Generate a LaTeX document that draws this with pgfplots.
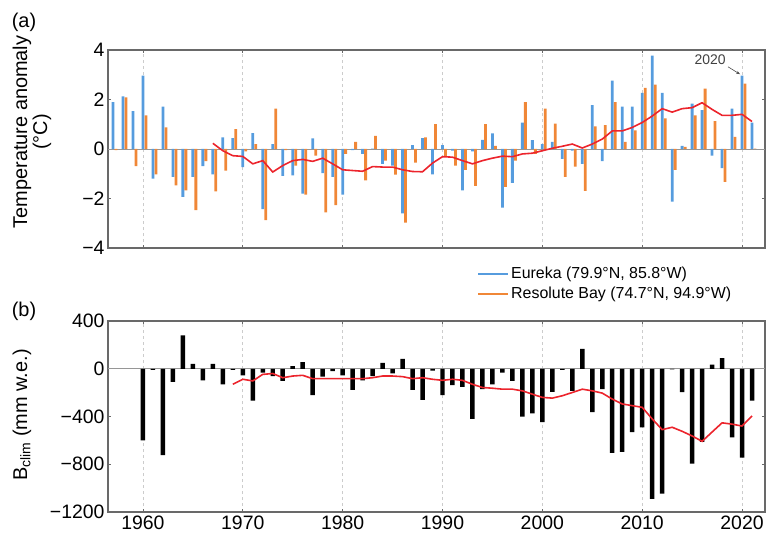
\documentclass[border=0pt]{standalone}
\usepackage{fontspec}
\setmainfont{Liberation Sans}
\usepackage{pgfplots}
\pgfplotsset{compat=1.18}
\usetikzlibrary{arrows.meta}
\definecolor{eblue}{RGB}{86,156,222}
\definecolor{rorange}{RGB}{240,135,55}
\definecolor{rline}{RGB}{236,36,44}
\definecolor{frame}{RGB}{105,105,105}
\pgfplotsset{
  myaxis/.style={
    scale only axis, width=657bp,
    xmin=1956.5, xmax=2022.3,
    axis line style={frame, line width=1.3bp},
    tick style={frame, line width=0.6bp}, major tick length=3bp,
    xtick={1960,1970,...,2020},
    xmajorgrids, major grid style={dashed, gray!40, line width=0.6bp},
    tick label style={font=\fontsize{19.5}{20}\selectfont},
  }
}
\begin{document}
\begin{tikzpicture}
\path[use as bounding box] (0bp,0bp) rectangle (767bp,-539bp);
\begin{axis}[myaxis,
  at={(108bp,-50bp)}, anchor=north west, height=198bp,
  ymin=-4, ymax=4, ytick={-4,-2,0,2,4}, yticklabels={−4,−2,0,2,4},
  xticklabels={},
  legend style={at={(0.5616,-0.085)}, anchor=north west, draw=none, fill=none,
    font=\fontsize{16}{18}\selectfont, inner sep=0pt, row sep=3bp},
  legend cell align=left,
  legend image code/.code={\draw[#1] (0bp,0bp) -- (30bp,0bp);},
]
\draw[frame!70, line width=0.8bp] (axis cs:1956.5,0) -- (axis cs:2022.3,0);
\addplot[ybar, bar width=0.28, bar shift=0, fill=eblue, draw=none, forget plot] coordinates {
(1957,1.89) (1958,2.13) (1959,1.53) (1960,2.96) (1961,-1.2) (1962,1.71) (1963,-1.13) (1964,-1.93)
(1965,-1.13) (1966,-0.69) (1967,-1.03) (1968,0.47) (1969,0.44) (1970,-0.73) (1971,0.64) (1972,-2.43)
(1973,0.2) (1974,-1.09) (1975,-1.07) (1976,-1.8) (1977,0.43) (1978,-0.97) (1979,-1.13) (1980,-1.84)
(1981,-0.05) (1982,-0.2) (1983,0.02) (1984,-0.6) (1985,-0.67) (1986,-2.6) (1987,0.16) (1988,0.44)
(1989,-1.03) (1990,0.16) (1991,-0.07) (1992,-1.67) (1993,-0.1) (1994,0.37) (1995,0.63) (1996,-2.37)
(1997,-1.37) (1998,1.07) (1999,0.36) (2000,0.2) (2001,0.29) (2002,-0.4) (2003,-0.07) (2004,-0.6)
(2005,1.77) (2006,-0.49) (2007,2.76) (2008,1.71) (2009,1.71) (2010,2.27) (2011,3.77) (2012,2.27)
(2013,-2.13) (2014,0.13) (2015,1.83) (2016,1.57) (2017,-0.27) (2018,-0.77) (2019,1.63) (2020,2.96)
(2021,1.07)};
\addplot[ybar, bar width=0.28, bar shift=0.3, fill=rorange, draw=none, forget plot] coordinates {
(1957,-0.05) (1958,2.09) (1959,-0.69) (1960,1.36) (1961,-1.03) (1962,0.87) (1963,-1.47) (1964,-1.67)
(1965,-2.47) (1966,-0.49) (1967,-1.71) (1968,-0.87) (1969,0.8) (1970,-0.1) (1971,0.2) (1972,-2.87)
(1973,1.63) (1974,-0.05) (1975,-0.67) (1976,-1.84) (1977,-0.27) (1978,-2.56) (1979,-2.27) (1980,-0.2)
(1981,0.29) (1982,-1.27) (1983,0.53) (1984,-0.47) (1985,-1.04) (1986,-2.97) (1987,-0.55) (1988,0.47)
(1989,1.0) (1990,-0.31) (1991,-0.67) (1992,-0.84) (1993,-1.49) (1994,1.0) (1995,0.13) (1996,-1.53)
(1997,-0.47) (1998,1.89) (1999,-0.2) (2000,1.63) (2001,1.03) (2002,-1.13) (2003,-0.71) (2004,-1.69)
(2005,0.91) (2006,0.96) (2007,1.89) (2008,0.29) (2009,0.75) (2010,2.47) (2011,2.6) (2012,1.24)
(2013,-0.84) (2014,0.09) (2015,1.36) (2016,2.44) (2017,1.13) (2018,-1.33) (2019,0.49) (2020,2.64)
(2021,0.02)};
\addplot[rline, line width=1.6bp, no markers, forget plot] coordinates {
(1967,0.23) (1968,-0.07) (1969,-0.27) (1970,-0.3) (1971,-0.6) (1972,-0.47) (1973,-0.93) (1974,-0.67)
(1975,-0.47) (1976,-0.42) (1977,-0.5) (1978,-0.37) (1979,-0.6) (1980,-0.84) (1981,-0.87) (1982,-0.9)
(1983,-0.71) (1984,-0.73) (1985,-0.73) (1986,-0.84) (1987,-0.91) (1988,-0.92) (1989,-0.57) (1990,-0.31)
(1991,-0.33) (1992,-0.47) (1993,-0.6) (1994,-0.47) (1995,-0.37) (1996,-0.29) (1997,-0.31) (1998,-0.2)
(1999,-0.17) (2000,-0.07) (2001,0.03) (2002,0.11) (2003,0.2) (2004,0.04) (2005,0.2) (2006,0.4)
(2007,0.73) (2008,0.73) (2009,0.87) (2010,1.07) (2011,1.33) (2012,1.63) (2013,1.49) (2014,1.63)
(2015,1.67) (2016,1.87) (2017,1.6) (2018,1.36) (2019,1.36) (2020,1.4) (2021,1.11)};
\addlegendimage{eblue, line width=2bp}
\addlegendentry{Eureka (79.9°N, 85.8°W)}
\addlegendimage{rorange, line width=2bp}
\addlegendentry{Resolute Bay (74.7°N, 94.9°W)}
\node[font=\fontsize{14}{14}\selectfont, text=black!75] at (axis cs:2016.8,3.62) {2020};
\draw[-{Stealth[length=4bp]}, black!70, line width=0.6bp] (axis cs:2018.6,3.32) -- (axis cs:2019.8,3.02);
\end{axis}

\begin{axis}[myaxis,
  at={(108bp,-321bp)}, anchor=north west, height=191bp,
  ymin=-1200, ymax=400, ytick={-1200,-800,-400,0,400}, yticklabels={−1200,−800,−400,0,400},
  xticklabels={1960,1970,1980,1990,2000,2010,2020},
]
\draw[frame!70, line width=0.8bp] (axis cs:1956.5,0) -- (axis cs:2022.3,0);
\addplot[ybar, bar width=0.45, bar shift=0, fill=black, draw=none] coordinates {
(1960,-599) (1961,-10) (1962,-723) (1963,-110) (1964,279) (1965,41) (1966,-97) (1967,41)
(1968,-130) (1969,-10) (1970,-55) (1971,-268) (1972,-33) (1973,-61) (1974,-102) (1975,22)
(1976,55) (1977,-221) (1978,-66) (1979,-20) (1980,-55) (1981,-177) (1982,-97) (1983,-61)
(1984,50) (1985,-39) (1986,83) (1987,-177) (1988,-260) (1989,-15) (1990,-221) (1991,-138)
(1992,-152) (1993,-420) (1994,-171) (1995,-130) (1996,-33) (1997,-102) (1998,-400) (1999,-373)
(2000,-447) (2001,-193) (2002,-10) (2003,-185) (2004,166) (2005,-364) (2006,-171) (2007,-704)
(2008,-696) (2009,-530) (2010,-491) (2011,-1090) (2012,-1045) (2013,-5) (2014,-196) (2015,-795)
(2016,-612) (2017,34) (2018,90) (2019,-575) (2020,-744) (2021,-267)};
\addplot[rline, line width=1.6bp, no markers] coordinates {
(1969,-130) (1970,-88) (1971,-102) (1972,-47) (1973,-40) (1974,-75) (1975,-61) (1976,-55)
(1977,-83) (1978,-83) (1979,-83) (1980,-83) (1981,-83) (1982,-83) (1983,-75) (1984,-61)
(1985,-61) (1986,-66) (1987,-83) (1988,-75) (1989,-88) (1990,-97) (1991,-88) (1992,-97)
(1993,-130) (1994,-157) (1995,-163) (1996,-171) (1997,-171) (1998,-185) (1999,-213) (2000,-240)
(2001,-246) (2002,-226) (2003,-199) (2004,-171) (2005,-185) (2006,-204) (2007,-254) (2008,-295)
(2009,-309) (2010,-323) (2011,-420) (2012,-510) (2013,-490) (2014,-524) (2015,-563) (2016,-608)
(2017,-530) (2018,-453) (2019,-464) (2020,-480) (2021,-395)};
\end{axis}

\node[rotate=90, align=center, font=\fontsize{20}{20}\selectfont] at (32bp,-132bp) {Temperature anomaly\\(°C)};
\node[rotate=90, font=\fontsize{20}{20}\selectfont] at (22bp,-415bp) {B\textsubscript{clim} (mm w.e.)};
\node[font=\fontsize{20}{20}\selectfont] at (24bp,-22bp) {(a)};
\node[font=\fontsize{20}{20}\selectfont] at (24bp,-311bp) {(b)};
\end{tikzpicture}
\end{document}
